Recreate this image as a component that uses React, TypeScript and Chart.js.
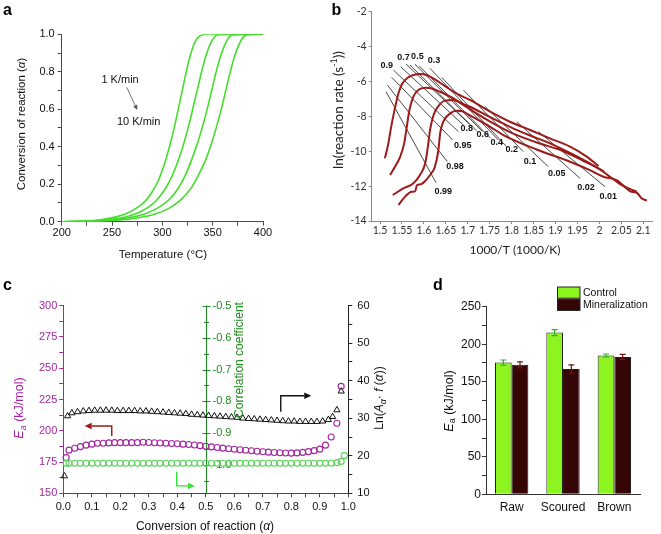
import React, { useEffect, useRef } from 'react';
import { Chart, registerables } from 'chart.js';
Chart.register(...registerables);

const CW = 661;
const CH = 534;
const SANS = '"Liberation Sans", Arial, sans-serif';
const CAL = 'Lato, "Liberation Sans", sans-serif';

// ---------------- Panel a: conversion curves ----------------
const aCurve1T = [200, 220, 240, 255, 265, 275, 283, 290, 296, 301, 305, 309, 313, 317, 321, 325, 329, 333, 337, 342, 400];
const aCurve1A = [0, 0.003, 0.012, 0.027, 0.045, 0.075, 0.11, 0.16, 0.22, 0.29, 0.36, 0.44, 0.53, 0.63, 0.73, 0.83, 0.91, 0.965, 0.99, 1.0, 1.0];
const aCurve2T = [200, 225, 245, 262, 275, 287, 296, 304, 311, 317, 322, 327, 331, 335, 339, 343, 347, 351, 356, 400];
const aCurve2A = [0, 0.003, 0.01, 0.024, 0.045, 0.08, 0.125, 0.185, 0.26, 0.345, 0.43, 0.53, 0.62, 0.71, 0.8, 0.88, 0.94, 0.98, 0.998, 1.0];
const aCurve3T = [200, 230, 250, 268, 283, 296, 307, 316, 323, 329, 335, 340, 345, 349, 353, 357, 361, 365, 370, 400];
const aCurve3A = [0, 0.003, 0.009, 0.022, 0.043, 0.075, 0.12, 0.18, 0.25, 0.33, 0.42, 0.51, 0.61, 0.7, 0.79, 0.87, 0.93, 0.975, 0.997, 1.0];
const aCurve4T = [200, 235, 255, 275, 292, 306, 318, 328, 336, 343, 349, 354, 359, 363, 367, 371, 375, 379, 384, 400];
const aCurve4A = [0, 0.003, 0.008, 0.02, 0.04, 0.07, 0.115, 0.175, 0.25, 0.33, 0.42, 0.51, 0.61, 0.7, 0.79, 0.87, 0.93, 0.975, 0.997, 1.0];
const aXMajor = [200, 250, 300, 350, 400];
const aXMinor = [225, 275, 325, 375];
const aYMajor = [0, 0.2, 0.4, 0.6, 0.8, 1.0];
const aYMinor = [0.1, 0.3, 0.5, 0.7, 0.9];

// ---------------- Panel b: Friedman plot ----------------
const bCurveAX = [1.511, 1.515, 1.519, 1.524, 1.530, 1.536, 1.542, 1.549, 1.557, 1.566, 1.576, 1.591, 1.606, 1.625, 1.650, 1.675, 1.705, 1.751, 1.796, 1.842, 1.887, 1.933, 1.971, 1.998];
const bCurveAY = [-10.4, -10.0, -9.55, -8.8, -8.0, -7.3, -6.68, -6.2, -5.92, -5.74, -5.63, -5.57, -5.63, -5.88, -6.3, -6.7, -7.06, -7.73, -8.31, -8.78, -9.26, -9.74, -10.31, -10.85];
const bCurveBX = [1.523, 1.534, 1.546, 1.555, 1.561, 1.567, 1.576, 1.587, 1.603, 1.618, 1.637, 1.660, 1.690, 1.705, 1.751, 1.796, 1.842, 1.887, 1.933, 1.971, 2.010];
const bCurveBY = [-11.36, -10.89, -10.31, -9.55, -8.59, -7.64, -6.87, -6.49, -6.36, -6.40, -6.59, -6.87, -7.3, -7.45, -8.05, -8.6, -9.1, -9.55, -10.1, -10.6, -11.15];
const bCurveCX = [1.529, 1.553, 1.576, 1.591, 1.603, 1.609, 1.614, 1.622, 1.633, 1.648, 1.667, 1.682, 1.705, 1.751, 1.796, 1.857, 1.918, 1.963, 2.001, 2.024, 2.054, 2.085];
const bCurveCY = [-12.51, -12.13, -11.84, -11.36, -10.69, -9.74, -8.78, -7.92, -7.41, -7.10, -7.06, -7.22, -7.6, -8.3, -8.9, -9.5, -10.0, -10.55, -11.04, -11.46, -11.99, -12.32];
const bCurveDX = [1.542, 1.557, 1.572, 1.580, 1.584, 1.592, 1.599, 1.614, 1.625, 1.633, 1.637, 1.644, 1.660, 1.675, 1.690, 1.705, 1.751, 1.781, 1.857, 1.933, 1.978, 2.009, 2.039, 2.062, 2.070, 2.085, 2.096, 2.108];
const bCurveDY = [-13.08, -12.6, -12.32, -12.3, -11.95, -11.9, -11.8, -11.36, -10.89, -9.93, -8.97, -8.31, -7.83, -7.68, -7.73, -7.95, -8.6, -9.07, -9.9, -10.6, -11.08, -11.46, -11.65, -12.13, -12.3, -12.38, -12.7, -12.83];
const bLineAlpha = ['0.99', '0.98', '0.95', '0.9', '0.8', '0.7', '0.6', '0.5', '0.4', '0.3', '0.2', '0.1', '0.05', '0.02', '0.01'];
const bLineX1 = [1.5137, 1.5167, 1.5266, 1.5304, 1.5471, 1.5592, 1.5684, 1.5797, 1.5896, 1.6139, 1.6405, 1.6899, 1.7392, 1.8114, 1.8608];
const bLineY1 = [-6.586, -6.204, -5.765, -5.344, -5.153, -5.0, -5.057, -5.019, -5.115, -5.249, -5.765, -6.491, -7.446, -8.306, -8.879];
const bLineX2 = [1.6276, 1.6534, 1.6656, 1.6785, 1.6899, 1.7035, 1.7203, 1.7339, 1.7522, 1.7696, 1.7886, 1.8266, 1.8835, 1.9557, 2.0127];
const bLineY2 = [-11.803, -10.599, -9.357, -8.879, -8.497, -8.44, -8.841, -8.879, -9.261, -9.357, -9.739, -10.026, -10.886, -11.555, -12.032];
const bLabelText = ['0.9', '0.7', '0.5', '0.3', '0.8', '0.6', '0.4', '0.2', '0.1', '0.05', '0.02', '0.01', '0.95', '0.98', '0.99'];
const bLabelX = [1.5152, 1.5532, 1.5851, 1.623, 1.6975, 1.7339, 1.7658, 1.80, 1.8418, 1.9025, 1.9694, 2.0203, 1.6883, 1.6709, 1.6443];
const bLabelY = [-5.057, -4.618, -4.542, -4.809, -8.688, -9.07, -9.51, -9.93, -10.6, -11.27, -12.07, -12.6, -9.70, -10.886, -12.32];
const bXTicks = [1.5, 1.55, 1.6, 1.65, 1.7, 1.75, 1.8, 1.85, 1.9, 1.95, 2.0, 2.05, 2.1];
const bYTicks = [-2, -4, -6, -8, -10, -12, -14];

// ---------------- Panel c: Ea, correlation, ln(A f) ----------------
const cAlphaE = [0.01, 0.02, 0.04, 0.06, 0.08, 0.10, 0.12, 0.14, 0.16, 0.18, 0.20, 0.22, 0.24, 0.26, 0.28, 0.30, 0.32, 0.34, 0.36, 0.38, 0.40, 0.42, 0.44, 0.46, 0.48, 0.50, 0.52, 0.54, 0.56, 0.58, 0.60, 0.62, 0.64, 0.66, 0.68, 0.70, 0.72, 0.74, 0.76, 0.78, 0.80, 0.82, 0.84, 0.86, 0.88, 0.90, 0.92, 0.94, 0.96, 0.975];
const cEa = [178.5, 184.5, 186, 187.3, 188.5, 189.3, 190, 190, 190.3, 190.5, 190.5, 190.5, 190.5, 190.5, 190.8, 190.6, 190.4, 190.2, 190, 189.8, 189.6, 189.3, 189, 188.6, 188.1, 187.6, 187.1, 186.6, 186.1, 185.6, 185.2, 184.8, 184.4, 184, 183.6, 183.2, 182.9, 182.6, 182.4, 182.2, 182.1, 182.3, 182.7, 183.3, 184.1, 185.3, 188.5, 195, 206, 235.5];
const cAlphaR = [0.01, 0.02, 0.04, 0.06, 0.08, 0.10, 0.12, 0.14, 0.16, 0.18, 0.20, 0.22, 0.24, 0.26, 0.28, 0.30, 0.32, 0.34, 0.36, 0.38, 0.40, 0.42, 0.44, 0.46, 0.48, 0.50, 0.52, 0.54, 0.56, 0.58, 0.60, 0.62, 0.64, 0.66, 0.68, 0.70, 0.72, 0.74, 0.76, 0.78, 0.80, 0.82, 0.84, 0.86, 0.88, 0.90, 0.92, 0.94, 0.96, 0.975, 0.986];
const cCorr = [-0.994, -0.994, -0.994, -0.994, -0.994, -0.994, -0.994, -0.994, -0.994, -0.994, -0.994, -0.994, -0.994, -0.994, -0.994, -0.994, -0.994, -0.994, -0.994, -0.994, -0.994, -0.994, -0.994, -0.994, -0.994, -0.994, -0.994, -0.994, -0.994, -0.994, -0.994, -0.994, -0.994, -0.994, -0.994, -0.994, -0.994, -0.994, -0.994, -0.994, -0.994, -0.994, -0.994, -0.994, -0.994, -0.994, -0.994, -0.994, -0.992, -0.988, -0.970];
const cAlphaL = [0.004, 0.015, 0.03, 0.05, 0.07, 0.09, 0.11, 0.13, 0.15, 0.17, 0.19, 0.21, 0.23, 0.25, 0.27, 0.29, 0.31, 0.33, 0.35, 0.37, 0.39, 0.41, 0.43, 0.45, 0.47, 0.49, 0.51, 0.53, 0.55, 0.57, 0.59, 0.61, 0.63, 0.65, 0.67, 0.69, 0.71, 0.73, 0.75, 0.77, 0.79, 0.81, 0.83, 0.85, 0.87, 0.89, 0.91, 0.93, 0.945, 0.96, 0.975];
const cLnA = [14.6, 30.6, 31.4, 31.7, 31.9, 32.0, 32.1, 32.1, 32.1, 32.1, 32.0, 32.0, 32.0, 32.0, 31.9, 31.9, 31.8, 31.7, 31.6, 31.5, 31.4, 31.3, 31.2, 31.0, 30.9, 30.8, 30.7, 30.6, 30.5, 30.4, 30.3, 30.2, 30.0, 29.9, 29.8, 29.7, 29.6, 29.5, 29.4, 29.3, 29.2, 29.2, 29.1, 29.1, 29.1, 29.1, 29.2, 29.6, 30.4, 32.2, 37.2];
const cXMajor = [0, 0.1, 0.2, 0.3, 0.4, 0.5, 0.6, 0.7, 0.8, 0.9, 1.0];
const cXMinor = [0.05, 0.15, 0.25, 0.35, 0.45, 0.55, 0.65, 0.75, 0.85, 0.95];
const cEMajor = [150, 175, 200, 225, 250, 275, 300];
const cEMinor = [162.5, 187.5, 212.5, 237.5, 262.5, 287.5];
const cLMajor = [10, 20, 30, 40, 50, 60];
const cLMinor = [15, 25, 35, 45, 55];
const cRMajor = [-0.5, -0.6, -0.7, -0.8, -0.9, -1.0];
const cRMinor = [-0.55, -0.65, -0.75, -0.85, -0.95, -1.05];

// ---------------- Panel d: bar chart ----------------
const dCategories = ['Raw', 'Scoured', 'Brown'];
const dControl = [175.5, 215.5, 185];
const dControlErr = [3.5, 4, 2];
const dMineral = [172.5, 167, 183];
const dMineralErr = [4, 5.5, 3.5];
const dYMajor = [0, 50, 100, 150, 200, 250];
const dYMinor = [25, 75, 125, 175, 225];

// ---------------- helpers ----------------
const key = (v: number) => Number(v).toFixed(4);

function linAxis(o: any) {
  const maj = new Set(o.major.map(key));
  const all = [...o.major, ...(o.minor || [])].sort((a: number, b: number) => a - b);
  return {
    type: 'linear',
    position: o.position,
    min: o.min,
    max: o.max,
    display: o.display === undefined ? true : o.display,
    afterBuildTicks: (s: any) => { s.ticks = all.map((v: number) => ({ value: v })); },
    afterFit: (s: any) => { if (o.horizontal) s.height = o.size; else s.width = o.size; },
    grid: { display: true, drawOnChartArea: false, drawTicks: o.tick > 0, tickLength: o.tick, color: o.color, lineWidth: 1 },
    border: { display: true, color: o.color, width: 1 },
    ticks: {
      autoSkip: false, maxRotation: 0, minRotation: 0, padding: o.pad,
      color: o.labelColor, font: o.font,
      callback: (v: any) => (maj.has(key(v)) ? o.fmt(Number(v)) : ''),
    },
    title: { display: false },
  };
}

function pairs(xs: number[], ys: number[]) {
  return xs.map((x, i) => ({ x, y: ys[i] }));
}

type Part = { t: string; f: string; dy?: number };
function drawRich(ctx: any, parts: Part[], x: number, y: number, rot: number, color: string) {
  ctx.save();
  ctx.translate(x, y);
  ctx.rotate(rot);
  let total = 0;
  for (const p of parts) { ctx.font = p.f; total += ctx.measureText(p.t).width; }
  let cx = -total / 2;
  ctx.textBaseline = 'middle';
  ctx.textAlign = 'left';
  ctx.fillStyle = color;
  for (const p of parts) {
    ctx.font = p.f;
    ctx.fillText(p.t, cx, p.dy || 0);
    cx += ctx.measureText(p.t).width;
  }
  ctx.restore();
}

function drawArrow(ctx: any, pts: number[][], color: string, lw: number, head: number) {
  ctx.save();
  ctx.strokeStyle = color;
  ctx.fillStyle = color;
  ctx.lineWidth = lw;
  const n = pts.length;
  const [x1, y1] = pts[n - 2];
  const [x2, y2] = pts[n - 1];
  const ang = Math.atan2(y2 - y1, x2 - x1);
  const bx = x2 - head * Math.cos(ang);
  const by = y2 - head * Math.sin(ang);
  ctx.beginPath();
  ctx.moveTo(pts[0][0], pts[0][1]);
  for (let i = 1; i < n - 1; i++) ctx.lineTo(pts[i][0], pts[i][1]);
  ctx.lineTo(bx, by);
  ctx.stroke();
  const w = head * 0.45;
  ctx.beginPath();
  ctx.moveTo(x2, y2);
  ctx.lineTo(bx + w * Math.sin(ang), by - w * Math.cos(ang));
  ctx.lineTo(bx - w * Math.sin(ang), by + w * Math.cos(ang));
  ctx.closePath();
  ctx.fill();
  ctx.restore();
}

function panelLetter(ctx: any, t: string, x: number, y: number) {
  ctx.save();
  ctx.font = `bold 16px ${SANS}`;
  ctx.fillStyle = '#000';
  ctx.textAlign = 'left';
  ctx.textBaseline = 'alphabetic';
  ctx.fillText(t, x, y);
  ctx.restore();
}

function baseOptions(padding: any) {
  return {
    responsive: false,
    animation: false,
    events: [],
    layout: { padding },
    plugins: { legend: { display: false }, tooltip: { enabled: false } },
  };
}

// ---------------- chart configs ----------------
function configA() {
  const green = '#46dc2e';
  const mk = (t: number[], a: number[]) => ({
    data: pairs(t, a), showLine: true, borderColor: green, borderWidth: 1.6,
    pointRadius: 0, cubicInterpolationMode: 'monotone', fill: false,
  });
  const axisCol = '#4a4a4a';
  const fnt = { family: SANS, size: 11 };
  return {
    type: 'scatter',
    data: { datasets: [mk(aCurve1T, aCurve1A), mk(aCurve2T, aCurve2A), mk(aCurve3T, aCurve3A), mk(aCurve4T, aCurve4A)] },
    options: {
      ...baseOptions({ left: 0, top: 34.3, right: CW - 263, bottom: CH - 221.7 - 30 }),
      scales: {
        x: linAxis({ position: 'bottom', min: 200, max: 400, major: aXMajor, minor: aXMinor, fmt: (v: number) => String(v), color: axisCol, labelColor: '#111', font: fnt, pad: 1, tick: 4, size: 30, horizontal: true }),
        y: linAxis({ position: 'left', min: 0, max: 1, major: aYMajor, minor: aYMinor, fmt: (v: number) => v.toFixed(1), color: axisCol, labelColor: '#111', font: fnt, pad: 3, tick: 4, size: 61.7 }),
      },
    },
    plugins: [{
      id: 'annA',
      afterDraw(chart: any) {
        const ctx = chart.ctx;
        const xs = chart.scales.x, ys = chart.scales.y;
        panelLetter(ctx, 'a', 3, 15);
        drawRich(ctx, [{ t: 'Conversion of reaction (', f: `11.5px ${SANS}` }, { t: 'α', f: `italic 11.5px ${SANS}` }, { t: ')', f: `11.5px ${SANS}` }], 21.5, 124, -Math.PI / 2, '#111');
        drawRich(ctx, [{ t: 'Temperature (°C)', f: `11.5px ${SANS}` }], 163, 255, 0, '#111');
        ctx.save();
        ctx.font = `11px ${SANS}`;
        ctx.fillStyle = '#111';
        ctx.textAlign = 'center';
        ctx.textBaseline = 'middle';
        ctx.fillText('1 K/min', xs.getPixelForValue(258), ys.getPixelForValue(0.756));
        ctx.fillText('10 K/min', xs.getPixelForValue(276.5), ys.getPixelForValue(0.532));
        ctx.restore();
        drawArrow(ctx, [[xs.getPixelForValue(264.6), ys.getPixelForValue(0.717)], [xs.getPixelForValue(275.1), ys.getPixelForValue(0.596)]], '#555', 0.8, 5);
      },
    }],
  };
}

function configB() {
  const red = '#9c1a1a';
  const curves = [[bCurveAX, bCurveAY], [bCurveBX, bCurveBY], [bCurveCX, bCurveCY], [bCurveDX, bCurveDY]].map(([xs, ys]) => ({
    data: pairs(xs as number[], ys as number[]), showLine: true, borderColor: red, borderWidth: 2,
    pointRadius: 0, cubicInterpolationMode: 'monotone', fill: false, order: 0,
  }));
  const lines = bLineAlpha.map((_, i) => ({
    data: [{ x: bLineX1[i], y: bLineY1[i] }, { x: bLineX2[i], y: bLineY2[i] }],
    showLine: true, borderColor: '#1a1a1a', borderWidth: 0.8, pointRadius: 0, fill: false, order: 1,
  }));
  const axisCol = '#8a8a8a';
  const fnt = { family: CAL, size: 10.5 };
  return {
    type: 'scatter',
    data: { datasets: [...lines, ...curves] },
    options: {
      ...baseOptions({ left: 330, top: 11.7, right: CW - 652.1, bottom: CH - 221 - 20 }),
      scales: {
        x: linAxis({ position: 'bottom', min: 1.481, max: 2.12, major: bXTicks, minor: [], fmt: (v: number) => String(Number(v.toFixed(2))), color: axisCol, labelColor: '#333', font: fnt, pad: 0, tick: 3, size: 20, horizontal: true }),
        y: linAxis({ position: 'left', min: -14, max: -2, major: bYTicks, minor: [], fmt: (v: number) => String(v), color: axisCol, labelColor: '#333', font: fnt, pad: 2, tick: 3, size: 41.7 }),
      },
    },
    plugins: [{
      id: 'annB',
      afterDraw(chart: any) {
        const ctx = chart.ctx;
        const xs = chart.scales.x, ys = chart.scales.y;
        panelLetter(ctx, 'b', 331.5, 15);
        drawRich(ctx, [{ t: 'ln(reaction rate (s', f: `13.5px ${CAL}` }, { t: '-1', f: `9px ${CAL}`, dy: -4.5 }, { t: '))', f: `13.5px ${CAL}` }], 338.5, 110, -Math.PI / 2, '#222');
        drawRich(ctx, [{ t: '1000/T (1000/K)', f: `12px ${CAL}` }], 515, 250, 0, '#222');
        ctx.save();
        ctx.font = `bold 9px ${SANS}`;
        ctx.fillStyle = '#111';
        ctx.textAlign = 'center';
        ctx.textBaseline = 'middle';
        bLabelText.forEach((t, i) => ctx.fillText(t, xs.getPixelForValue(bLabelX[i]), ys.getPixelForValue(bLabelY[i])));
        ctx.restore();
      },
    }],
  };
}

function configC() {
  const mag = '#a3259f';
  const grn = '#58d258';
  const dgrn = '#1f8a1f';
  const fnt = { family: SANS, size: 11 };
  return {
    type: 'scatter',
    data: {
      datasets: [
        { data: pairs(cAlphaR, cCorr), yAxisID: 'yR', pointStyle: 'circle', pointRadius: 3, borderColor: grn, backgroundColor: 'rgba(0,0,0,0)', borderWidth: 1.1, showLine: false, clip: false },
        { data: pairs(cAlphaE, cEa), yAxisID: 'yE', pointStyle: 'circle', pointRadius: 3, borderColor: mag, backgroundColor: 'rgba(0,0,0,0)', borderWidth: 1.1, showLine: false, clip: false },
        { data: pairs(cAlphaL, cLnA), yAxisID: 'yL', pointStyle: 'triangle', pointRadius: 3.6, borderColor: '#111', backgroundColor: 'rgba(0,0,0,0)', borderWidth: 1, showLine: false, clip: false },
      ],
    },
    options: {
      ...baseOptions({ left: 0, top: 305.7, right: CW - 348.3 - 40, bottom: CH - 493.3 - 25 }),
      scales: {
        x: linAxis({ position: 'bottom', min: 0, max: 1, major: cXMajor, minor: cXMinor, fmt: (v: number) => v.toFixed(1), color: '#5a3a5a', labelColor: '#111', font: fnt, pad: 3, tick: 4, size: 25, horizontal: true }),
        yE: linAxis({ position: 'left', min: 150, max: 300, major: cEMajor, minor: cEMinor, fmt: (v: number) => String(v), color: mag, labelColor: mag, font: fnt, pad: 2, tick: 4, size: 63.3 }),
        yL: linAxis({ position: 'right', min: 10, max: 60, major: cLMajor, minor: cLMinor, fmt: (v: number) => String(v), color: '#222', labelColor: '#111', font: fnt, pad: 5, tick: 4, size: 40 }),
        yR: { type: 'linear', display: false, min: -1.088, max: -0.5 },
      },
    },
    plugins: [{
      id: 'annC',
      beforeDatasetsDraw(chart: any) {
        const ctx = chart.ctx;
        const xs = chart.scales.x, ys = chart.scales.yR;
        const ax = Math.round(xs.getPixelForValue(0.5)) + 0.5;
        ctx.save();
        ctx.strokeStyle = dgrn;
        ctx.lineWidth = 1;
        ctx.beginPath();
        ctx.moveTo(ax, chart.chartArea.top);
        ctx.lineTo(ax, chart.chartArea.bottom);
        cRMajor.forEach((v) => { const y = Math.round(ys.getPixelForValue(v)) + 0.5; ctx.moveTo(ax - 4, y); ctx.lineTo(ax + 4, y); });
        cRMinor.forEach((v) => { const y = Math.round(ys.getPixelForValue(v)) + 0.5; ctx.moveTo(ax - 2.5, y); ctx.lineTo(ax + 2.5, y); });
        ctx.stroke();
        ctx.font = `11px ${SANS}`;
        ctx.fillStyle = dgrn;
        ctx.textAlign = 'left';
        ctx.textBaseline = 'middle';
        cRMajor.forEach((v) => ctx.fillText(v.toFixed(1), ax + 6, ys.getPixelForValue(v)));
        ctx.restore();
      },
      afterDraw(chart: any) {
        const ctx = chart.ctx;
        const xs = chart.scales.x, yE = chart.scales.yE, yL = chart.scales.yL;
        panelLetter(ctx, 'c', 3, 290);
        drawRich(ctx, [{ t: 'E', f: `italic 12.5px ${SANS}` }, { t: 'a', f: `italic 9px ${SANS}`, dy: 3 }, { t: ' (kJ/mol)', f: `12.5px ${SANS}` }], 20, 408, -Math.PI / 2, mag);
        drawRich(ctx, [{ t: 'Ln(', f: `12px ${SANS}` }, { t: 'A', f: `italic 12px ${SANS}` }, { t: 'α', f: `italic 9px ${SANS}`, dy: 3 }, { t: '· ', f: `12px ${SANS}` }, { t: 'f', f: `italic 12px ${SANS}` }, { t: ' (', f: `12px ${SANS}` }, { t: 'α', f: `italic 12px ${SANS}` }, { t: '))', f: `12px ${SANS}` }], 380, 398, -Math.PI / 2, '#111');
        drawRich(ctx, [{ t: 'Correlation coefficient', f: `12px ${SANS}` }], 239.5, 360, -Math.PI / 2, '#1f8a1f');
        drawRich(ctx, [{ t: 'Conversion of reaction (', f: `12px ${SANS}` }, { t: 'α', f: `italic 12px ${SANS}` }, { t: ')', f: `12px ${SANS}` }], 205, 526.5, 0, '#111');
        const px = (v: number) => xs.getPixelForValue(v);
        drawArrow(ctx, [[px(0.17), yE.getPixelForValue(195.8)], [px(0.17), yE.getPixelForValue(203.8)], [px(0.075), yE.getPixelForValue(203.8)]], '#a31515', 1.4, 7);
        drawArrow(ctx, [[px(0.763), yL.getPixelForValue(31.75)], [px(0.763), yL.getPixelForValue(36.0)], [px(0.87), yL.getPixelForValue(36.0)]], '#111', 1.4, 7);
        drawArrow(ctx, [[px(0.398), yE.getPixelForValue(167.3)], [px(0.398), yE.getPixelForValue(155.9)], [px(0.462), yE.getPixelForValue(155.9)]], '#36e036', 1.4, 7);
      },
    }],
  };
}

function configD() {
  const lime = '#8ef41f';
  const dark = '#360505';
  const fnt = { family: SANS, size: 12 };
  return {
    type: 'bar',
    data: {
      labels: dCategories,
      datasets: [
        { label: 'Control', data: dControl, backgroundColor: lime, borderColor: '#1e1e1e', borderWidth: 1, categoryPercentage: 0.65, barPercentage: 1 },
        { label: 'Mineralization', data: dMineral, backgroundColor: dark, borderColor: '#1e1e1e', borderWidth: 1, categoryPercentage: 0.65, barPercentage: 1 },
      ],
    },
    options: {
      ...baseOptions({ left: 400, top: 306.7, right: CW - 640, bottom: CH - 494.3 - 25 }),
      scales: {
        x: {
          type: 'category', position: 'bottom',
          afterFit: (s: any) => { s.height = 25; },
          grid: { display: false, drawTicks: false, drawOnChartArea: false },
          border: { display: true, color: '#333', width: 1 },
          ticks: { color: '#111', font: fnt, padding: 6, maxRotation: 0, autoSkip: false },
        },
        y: linAxis({ position: 'left', min: 0, max: 250, major: dYMajor, minor: dYMinor, fmt: (v: number) => String(v), color: '#333', labelColor: '#111', font: fnt, pad: 1, tick: 4, size: 86 }),
      },
    },
    plugins: [{
      id: 'annD',
      afterDatasetsDraw(chart: any) {
        const ctx = chart.ctx;
        const ys = chart.scales.y;
        const sets = [[dControl, dControlErr, '#2fae2f'], [dMineral, dMineralErr, '#6e1414']];
        sets.forEach(([vals, errs, col]: any, di: number) => {
          const meta = chart.getDatasetMeta(di);
          meta.data.forEach((bar: any, j: number) => {
            const x = bar.x;
            const yt = ys.getPixelForValue(vals[j] + errs[j]);
            const yb = ys.getPixelForValue(vals[j] - errs[j]);
            ctx.save();
            ctx.strokeStyle = col;
            ctx.lineWidth = 1.2;
            ctx.beginPath();
            ctx.moveTo(x, yt); ctx.lineTo(x, yb);
            ctx.moveTo(x - 3, yt); ctx.lineTo(x + 3, yt);
            ctx.moveTo(x - 3, yb); ctx.lineTo(x + 3, yb);
            ctx.stroke();
            ctx.restore();
          });
        });
      },
      afterDraw(chart: any) {
        const ctx = chart.ctx;
        panelLetter(ctx, 'd', 433, 290);
        drawRich(ctx, [{ t: 'E', f: `italic 12.5px ${SANS}` }, { t: 'a', f: `9px ${SANS}`, dy: 3 }, { t: ' (kJ/mol)', f: `12.5px ${SANS}` }], 450, 401, -Math.PI / 2, '#111');
        const items = [['Control', '#8ef41f'], ['Mineralization', '#360505']];
        ctx.save();
        items.forEach(([t, c], i) => {
          const y0 = 287 + i * 12.2;
          ctx.fillStyle = c;
          ctx.fillRect(557.5, y0, 22.5, 11.2);
          ctx.strokeStyle = '#222';
          ctx.lineWidth = 1;
          ctx.strokeRect(557.5, y0, 22.5, 11.2);
          ctx.fillStyle = '#111';
          ctx.font = `10.5px ${SANS}`;
          ctx.textAlign = 'left';
          ctx.textBaseline = 'middle';
          ctx.fillText(t, 583, y0 + 5.8);
        });
        ctx.restore();
      },
    }],
  };
}

export default function App() {
  const ra = useRef<HTMLCanvasElement>(null);
  const rb = useRef<HTMLCanvasElement>(null);
  const rc = useRef<HTMLCanvasElement>(null);
  const rd = useRef<HTMLCanvasElement>(null);
  useEffect(() => {
    const charts = [
      new Chart(ra.current as any, configA() as any),
      new Chart(rb.current as any, configB() as any),
      new Chart(rc.current as any, configC() as any),
      new Chart(rd.current as any, configD() as any),
    ];
    return () => charts.forEach((c) => c.destroy());
  }, []);
  const cs: any = { position: 'absolute', left: 0, top: 0, width: CW, height: CH };
  return (
    <div style={{ position: 'absolute', left: 0, top: 0, width: CW, height: CH, background: '#fff', overflow: 'hidden' }}>
      <canvas ref={ra} width={CW} height={CH} style={cs} />
      <canvas ref={rb} width={CW} height={CH} style={cs} />
      <canvas ref={rc} width={CW} height={CH} style={cs} />
      <canvas ref={rd} width={CW} height={CH} style={cs} />
    </div>
  );
}
